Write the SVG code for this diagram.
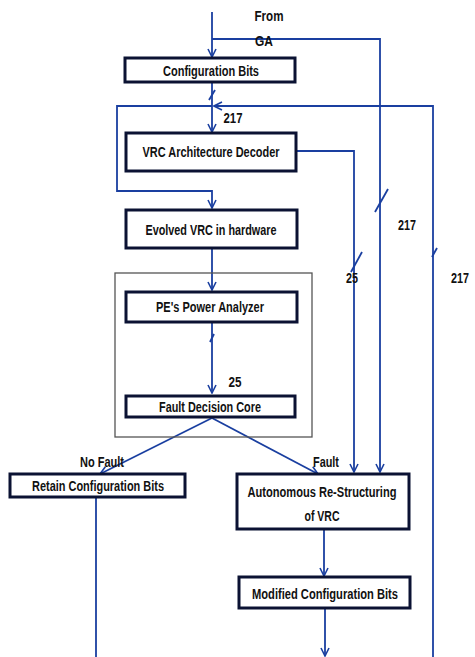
<svg xmlns="http://www.w3.org/2000/svg" width="475" height="657" viewBox="0 0 475 657">
<defs>
<marker id="arr" viewBox="0 0 10 10" refX="9" refY="5" markerWidth="10" markerHeight="10" markerUnits="userSpaceOnUse" orient="auto">
<path d="M1,1 L9,5 L1,9" fill="none" stroke="#1a3fa0" stroke-width="1.6"/>
</marker>
</defs>
<style>
.box{fill:#fff;stroke:#0b1233;stroke-width:3}
.frame{fill:none;stroke:#555;stroke-width:1.3}
.ln{fill:none;stroke:#1a3fa0;stroke-width:1.8}
.arr{marker-end:url(#arr)}
.t{font-family:"Liberation Sans",Arial,sans-serif;font-size:14.5px;font-weight:bold;fill:#111;text-anchor:middle;dominant-baseline:central}
</style>
<rect width="475" height="657" fill="#fff"/>
<g id="connectors">
<path class="ln arr" d="M212,12 V57"/>
<path class="ln arr" d="M212,39 H380 V472"/>
<path class="ln arr" d="M212,82 V132"/>
<path class="ln" d="M209,100 L215,90"/>
<path class="ln arr" d="M433,657 V106 H214"/>
<path class="ln arr" d="M212,106 H117 V191 H212 V208"/>
<path class="ln arr" d="M297,151 H354 V472"/>
<path class="ln" d="M375,212 L388,189"/>
<path class="ln" d="M351,272 L362,252"/>
<path class="ln" d="M432,257 L437,248"/>
<path class="ln arr" d="M212,248 V290"/>
<path class="ln arr" d="M212,322 V393"/>
<path class="ln" d="M210,342 L214,334"/>
<path class="ln arr" d="M212,418 L100,474"/>
<path class="ln arr" d="M212,418 L318,474"/>
<path class="ln" d="M96,497 V657"/>
<path class="ln arr" d="M324,529 V576"/>
<path class="ln arr" d="M325,608 V656"/>
</g>
<rect id="power-frame" class="frame" x="115" y="273" width="197" height="164"/>
<g id="config-bits"><rect class="box" x="125" y="58" width="170" height="24"/><text class="t" x="211" y="71" textLength="96" lengthAdjust="spacingAndGlyphs">Configuration Bits</text></g>
<g id="decoder"><rect class="box" x="126" y="133" width="170" height="38"/><text class="t" x="211" y="152" textLength="137" lengthAdjust="spacingAndGlyphs">VRC Architecture Decoder</text></g>
<g id="evolved"><rect class="box" x="126" y="210" width="171" height="38"/><text class="t" x="211" y="230" textLength="131" lengthAdjust="spacingAndGlyphs">Evolved VRC in hardware</text></g>
<g id="power-analyzer"><rect class="box" x="126" y="292" width="171" height="30"/><text class="t" x="210" y="307" textLength="108" lengthAdjust="spacingAndGlyphs">PE's Power Analyzer</text></g>
<g id="fault-core"><rect class="box" x="126" y="396" width="169" height="21"/><text class="t" x="210" y="407" textLength="102" lengthAdjust="spacingAndGlyphs">Fault Decision Core</text></g>
<g id="retain"><rect class="box" x="10" y="474" width="175" height="23"/><text class="t" x="98" y="486" textLength="132" lengthAdjust="spacingAndGlyphs">Retain Configuration Bits</text></g>
<g id="autonomous"><rect class="box" x="237" y="474" width="172" height="55"/><text class="t" x="322" y="492" textLength="149" lengthAdjust="spacingAndGlyphs">Autonomous Re-Structuring</text><text class="t" x="322" y="516" textLength="35" lengthAdjust="spacingAndGlyphs">of VRC</text></g>
<g id="modified"><rect class="box" x="239" y="577" width="171" height="31"/><text class="t" x="325" y="594" textLength="146" lengthAdjust="spacingAndGlyphs">Modified Configuration Bits</text></g>
<g id="labels">
<text class="t" x="269" y="16" textLength="29" lengthAdjust="spacingAndGlyphs">From</text>
<text class="t" x="264" y="41" textLength="18" lengthAdjust="spacingAndGlyphs">GA</text>
<text class="t" x="233" y="118" textLength="19" lengthAdjust="spacingAndGlyphs">217</text>
<text class="t" x="235" y="382" textLength="13" lengthAdjust="spacingAndGlyphs">25</text>
<text class="t" x="407" y="225" textLength="18" lengthAdjust="spacingAndGlyphs">217</text>
<text class="t" x="460" y="278" textLength="18" lengthAdjust="spacingAndGlyphs">217</text>
<text class="t" x="352" y="278" textLength="12" lengthAdjust="spacingAndGlyphs">25</text>
<text class="t" x="102" y="462" textLength="44" lengthAdjust="spacingAndGlyphs">No Fault</text>
<text class="t" x="326" y="462" textLength="26" lengthAdjust="spacingAndGlyphs">Fault</text>
</g>
</svg>
